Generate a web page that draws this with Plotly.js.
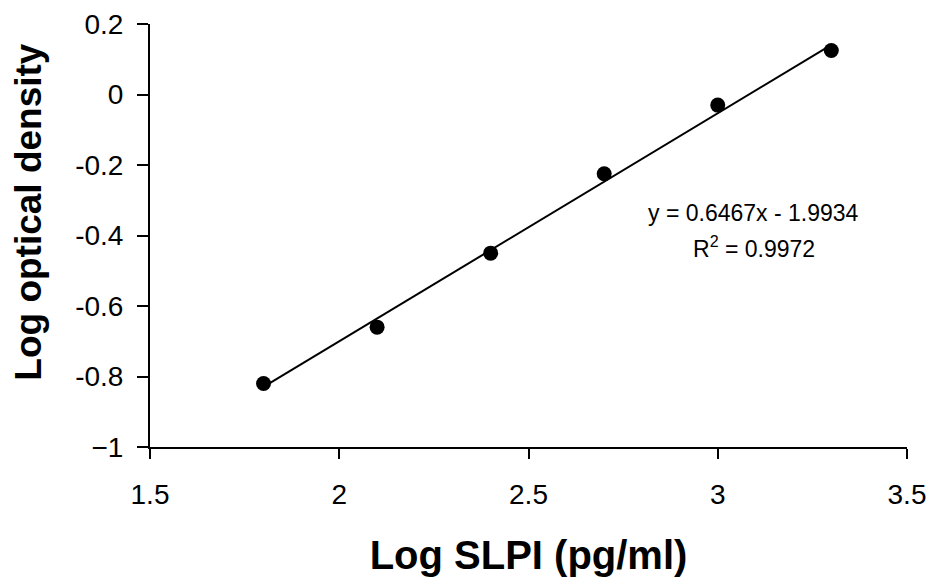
<!DOCTYPE html>
<html>
<head>
<meta charset="utf-8">
<script src="https://cdn.plot.ly/plotly-3.0.1.min.js"></script>
<style>
  html, body { margin: 0; padding: 0; background: #fff; }
  #chart { width: 933px; height: 581px; }
</style>
</head>
<body>
<div id="chart"></div>
<script>
// Data
const logSLPI = [1.8, 2.1, 2.4, 2.7, 3.0, 3.3];
const logOD = [-0.82, -0.66, -0.45, -0.225, -0.03, 0.125];

// Fitted regression line (as printed in the chart)
const slope = 0.6467;
const intercept = -1.9934;
const rSquared = 0.9972;
const fitX = [1.8, 3.3];

const xTickVals = [1.5, 2, 2.5, 3, 3.5];
const xTickText = ["1.5", "2", "2.5", "3", "3.5"];
const yTickVals = [-1, -0.8, -0.6, -0.4, -0.2, 0, 0.2];
const yTickText = ["\u22121", "-0.8", "-0.6", "-0.4", "-0.2", "0", "0.2"];

const xTitle = "Log SLPI (pg/ml)";
const yTitle = "Log optical density";

const fitY = fitX.map(x => slope * x + intercept);
const FONT = "Liberation Sans, Arial, Helvetica, sans-serif";

const traces = [
  {
    x: fitX, y: fitY, type: "scatter", mode: "lines",
    line: { color: "#000", width: 2 }, hoverinfo: "skip", showlegend: false
  },
  {
    x: logSLPI, y: logOD, type: "scatter", mode: "markers",
    marker: { color: "#000", size: 15 }, showlegend: false
  }
];

const layout = {
  width: 933, height: 581,
  margin: { l: 150, r: 26, t: 24, b: 134 },
  paper_bgcolor: "#fff", plot_bgcolor: "#fff",
  font: { family: FONT, color: "#000" },
  showlegend: false,
  xaxis: {
    range: [1.5, 3.5],
    tickmode: "array", tickvals: xTickVals, ticktext: xTickText,
    ticks: "outside", ticklen: 10, tickwidth: 2, tickcolor: "#000",
    showline: true, linecolor: "#000", linewidth: 2,
    showgrid: false, zeroline: false,
    tickfont: { size: 28, family: FONT, color: "#000" },
    ticklabelstandoff: 11,
    title: { text: xTitle, font: { size: 40, family: FONT, color: "#000", weight: "bold" }, standoff: 32 }
  },
  yaxis: {
    range: [-1, 0.2],
    tickmode: "array", tickvals: yTickVals, ticktext: yTickText,
    ticks: "outside", ticklen: 11, tickwidth: 2, tickcolor: "#000",
    showline: true, linecolor: "#000", linewidth: 2,
    showgrid: false, zeroline: false,
    tickfont: { size: 28, family: FONT, color: "#000" },
    ticklabelstandoff: 8
  },
  annotations: [
    {
      text: yTitle, xref: "paper", yref: "paper",
      x: -0.16, y: 0.556, xanchor: "center", yanchor: "middle",
      textangle: -90, showarrow: false,
      font: { size: 37, family: FONT, color: "#000", weight: "bold" }
    },
    {
      text: "y = " + slope.toFixed(4) + "x - " + Math.abs(intercept).toFixed(4),
      xref: "x", yref: "y", x: 3.095, y: -0.336,
      xanchor: "center", yanchor: "middle", showarrow: false,
      font: { size: 23, family: FONT, color: "#000" }
    },
    {
      text: "R<sup>2</sup> = " + rSquared.toFixed(4),
      xref: "x", yref: "y", x: 3.095, y: -0.433,
      xanchor: "center", yanchor: "middle", showarrow: false,
      font: { size: 23, family: FONT, color: "#000" }
    }
  ]
};

Plotly.newPlot("chart", traces, layout, { staticPlot: true, displayModeBar: false });
</script>
</body>
</html>
